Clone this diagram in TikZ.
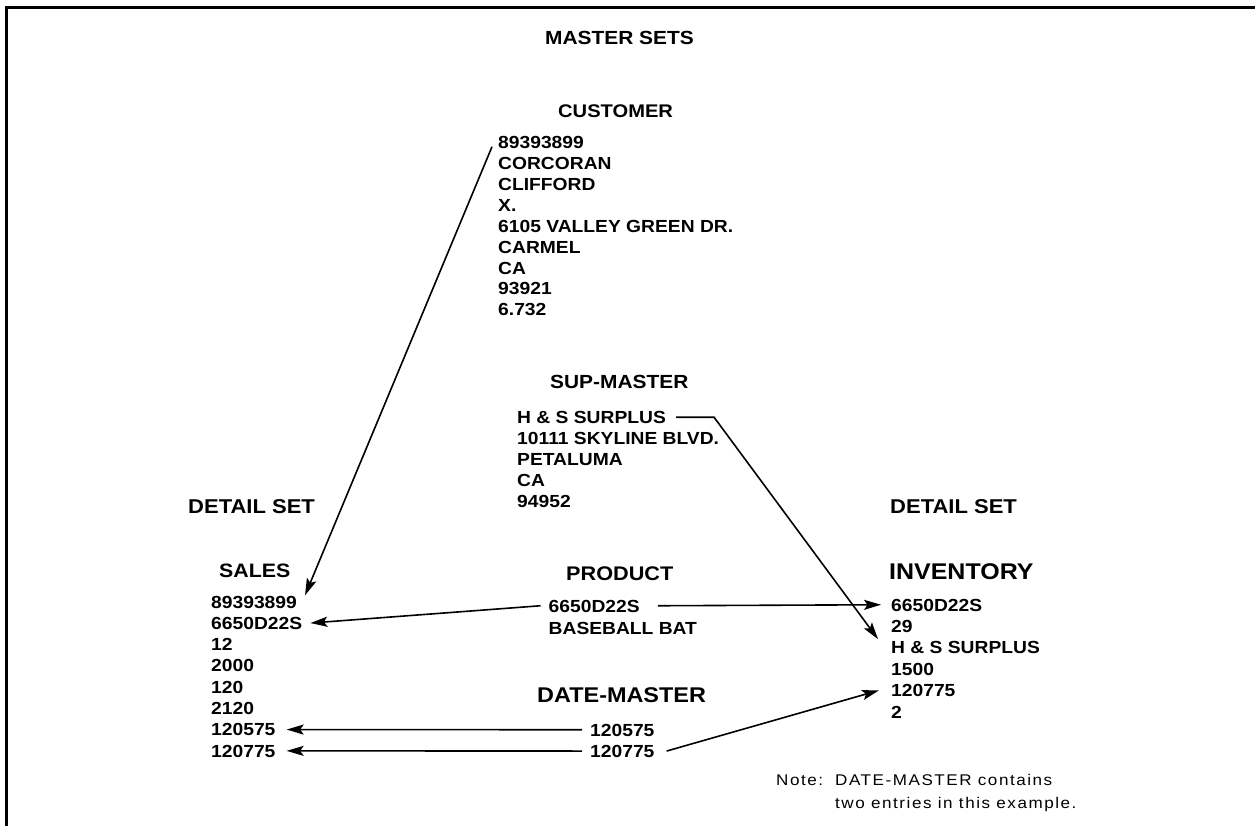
\documentclass[tikz,border=0pt]{standalone}
\usepackage{fontspec}
\usetikzlibrary{arrows.meta,calc}
\newfontfamily\sansfam[FakeStretch=1.1]{Liberation Sans}
\newfontfamily\notefam[FakeStretch=1.1,LetterSpace=10]{Liberation Sans}

\begin{document}
\begin{tikzpicture}[x=1pt,y=-1pt,
  datarow/.style={font=\sansfam\bfseries\fontsize{17.5}{17.5}\selectfont,
    anchor=base west, inner sep=0pt, text height=12.5pt, text depth=0pt},
  sethead/.style={font=\sansfam\bfseries\fontsize{#1}{#1}\selectfont,
    anchor=base west, inner sep=0pt},
  sectitle/.style={font=\sansfam\bfseries\fontsize{#1}{#1}\selectfont,
    anchor=base west, inner sep=0pt},
  notetext/.style={font=\notefam\fontsize{15.5}{15.5}\selectfont,
    anchor=base west, inner sep=0pt},
  linkarrow/.style={line width=1.6pt,
    -{Stealth[length=17pt,width=10pt,inset=3.5pt]}}]

% page and frame
\fill[white] (0,0) rectangle (1255,826);
\useasboundingbox (0,0) rectangle (1255,826);
\draw[line width=3pt] (1258,8) -- (6.5,8) -- (6.5,830);

% headings
\node[sectitle=19] (mtitle) at (545,45) {MASTER SETS};
\node[sectitle=20] (dleft) at (188,513) {DETAIL SET};
\node[sectitle=20] (dright) at (890,513) {DETAIL SET};

% CUSTOMER master set
\node[sethead=18.3] (cush) at (558,118) {CUSTOMER};
\foreach \t [count=\i] in {89393899, CORCORAN, CLIFFORD, X., 6105 VALLEY GREEN DR.,
    CARMEL, CA, 93921, 6.732}
  \node[datarow] (cus\i) at (498,{149+20.85*(\i-1)}) {\t};

% SUP-MASTER master set
\node[sethead=19] (suph) at (550,388) {SUP-MASTER};
\foreach \t [count=\i] in {H \& S SURPLUS, 10111 SKYLINE BLVD., PETALUMA, CA, 94952}
  \node[datarow] (sup\i) at (517,{423.5+21.1*(\i-1)}) {\t};

% SALES detail set
\node[sethead=19.4] (salh) at (219,577) {SALES};
\foreach \t [count=\i] in {89393899, 6650D22S, 12, 2000, 120, 2120, 120575, 120775}
  \node[datarow] (sal\i) at (211,{608+21.3*(\i-1)}) {\t};

% PRODUCT master set
\node[sethead=19.7] (proh) at (566,580.5) {PRODUCT};
\node[datarow] (pro1) at (548.5,612) {6650D22S};
\node[datarow] (pro2) at (548.5,634) {BASEBALL BAT};

% DATE-MASTER master set
\node[sethead=21.3] (dath) at (537,702.5) {DATE-MASTER};
\node[datarow] (dat1) at (590,736) {120575};
\node[datarow] (dat2) at (590,757.3) {120775};

% INVENTORY detail set
\node[sethead=22.7] (invh) at (889,579) {INVENTORY};
\foreach \t [count=\i] in {6650D22S, 29, H \& S SURPLUS, 1500, 120775, 2}
  \node[datarow] (inv\i) at (891,{611+21.4*(\i-1)}) {\t};

% note
\node[notetext] (notehd) at (776,785) {Note:};
\node[notetext] (note1) at (835,785) {DATE-MASTER contains};
\node[notetext] (note2) at (835,808) {two entries in this example.};

% links between master and detail entries
\draw[linkarrow] ($(cus1.west)+(-6,4)$) -- ($(sal1.north east)+(8,0)$);
\draw[linkarrow] ($(pro1.west)+(-8,0)$) -- ($(sal2.east)+(8,0)$);
\draw[linkarrow] ($(pro1.east)+(18,0)$) -- ($(inv1.west)+(-10,0)$);
\draw[linkarrow] ($(sup1.east)+(10,0)$) -- ++(38,0) -- ($(inv3.north west)+(-13,-2)$);
\draw[linkarrow] ($(dat1.west)+(-8,0)$) -- ($(sal7.east)+(11,0)$);
\draw[linkarrow] ($(dat2.west)+(-8,0)$) -- ($(sal8.east)+(11,0)$);
\draw[linkarrow] ($(dat2.east)+(12,0)$) -- ($(inv5.west)+(-12,0)$);
\end{tikzpicture}
\end{document}
